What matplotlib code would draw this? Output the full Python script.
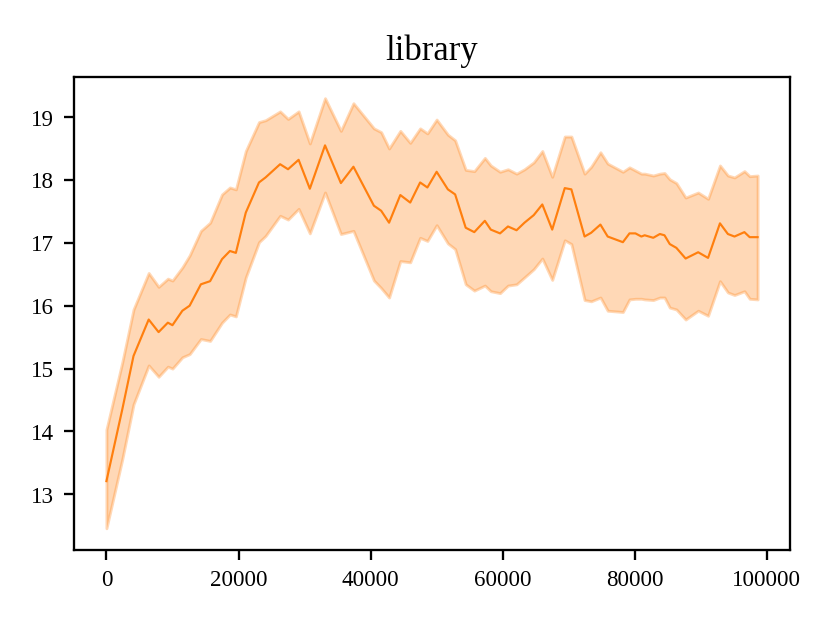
import numpy as np
import matplotlib
matplotlib.use("Agg")
import matplotlib.pyplot as plt

plt.rcParams["font.family"] = ["Liberation Serif", "DejaVu Serif"]

# training steps
steps = [0, 2400, 4100, 6400, 7900, 9300, 10000, 11500, 12600, 14300,
         15700, 17500, 18700, 19600, 21100, 23100, 24100, 26300, 27500, 29100,
         30800, 33100, 35500, 37400, 40500, 41600, 42800, 44500, 46000, 47500,
         48600, 50000, 51700, 52800, 54400, 55700, 57300, 58200, 59600, 60800,
         62100, 63300, 64700, 66000, 67500, 69400, 70400, 72400, 73400, 74800,
         75900, 78200, 79200, 80100, 81000, 81500, 82800, 83800, 84500, 85300,
         86300, 87700, 89600, 91100, 92900, 94100, 95100, 96600, 97400, 98600]

mean = [13.21, 14.35, 15.20, 15.78, 15.58, 15.73, 15.69, 15.92, 16.00, 16.34,
        16.39, 16.74, 16.87, 16.84, 17.48, 17.96, 18.04, 18.25, 18.17, 18.32,
        17.86, 18.55, 17.95, 18.21, 17.59, 17.51, 17.32, 17.76, 17.64, 17.96,
        17.88, 18.13, 17.85, 17.77, 17.24, 17.17, 17.35, 17.21, 17.15, 17.26,
        17.20, 17.32, 17.44, 17.61, 17.21, 17.87, 17.85, 17.10, 17.16, 17.29,
        17.10, 17.01, 17.15, 17.15, 17.10, 17.12, 17.08, 17.14, 17.12, 16.98,
        16.92, 16.75, 16.85, 16.76, 17.31, 17.14, 17.10, 17.17, 17.09, 17.09]

upper = [14.03, 15.10, 15.94, 16.52, 16.30, 16.43, 16.40, 16.61, 16.80, 17.19,
         17.32, 17.77, 17.88, 17.85, 18.46, 18.92, 18.95, 19.09, 18.97, 19.09,
         18.58, 19.30, 18.78, 19.22, 18.82, 18.76, 18.50, 18.78, 18.59, 18.82,
         18.74, 18.96, 18.72, 18.63, 18.16, 18.14, 18.35, 18.23, 18.13, 18.17,
         18.10, 18.17, 18.28, 18.46, 18.05, 18.69, 18.69, 18.10, 18.21, 18.44,
         18.26, 18.13, 18.20, 18.15, 18.10, 18.10, 18.07, 18.10, 18.11, 18.01,
         17.95, 17.72, 17.80, 17.70, 18.23, 18.07, 18.04, 18.14, 18.06, 18.07]

lower = [12.46, 13.56, 14.43, 15.05, 14.87, 15.03, 15.00, 15.18, 15.23, 15.47,
         15.44, 15.73, 15.86, 15.83, 16.45, 17.01, 17.11, 17.43, 17.37, 17.54,
         17.15, 17.80, 17.14, 17.19, 16.40, 16.28, 16.13, 16.71, 16.69, 17.08,
         17.03, 17.28, 16.99, 16.90, 16.34, 16.24, 16.32, 16.23, 16.20, 16.32,
         16.34, 16.45, 16.58, 16.75, 16.41, 17.04, 16.98, 16.09, 16.07, 16.13,
         15.92, 15.90, 16.10, 16.11, 16.11, 16.10, 16.09, 16.13, 16.13, 15.97,
         15.94, 15.78, 15.92, 15.84, 16.39, 16.21, 16.17, 16.23, 16.11, 16.10]

fig = plt.figure(figsize=(4, 3), dpi=207.5)
ax = fig.add_axes([0.089, 0.116, 0.863, 0.760])

ax.fill_between(steps, lower, upper, color="C1", alpha=0.3)
ax.plot(steps, mean, color="C1", linewidth=0.75)

ax.set_title("library", fontsize=12)
ax.tick_params(labelsize=8)

fig.savefig("out.png", dpi=207.5)
